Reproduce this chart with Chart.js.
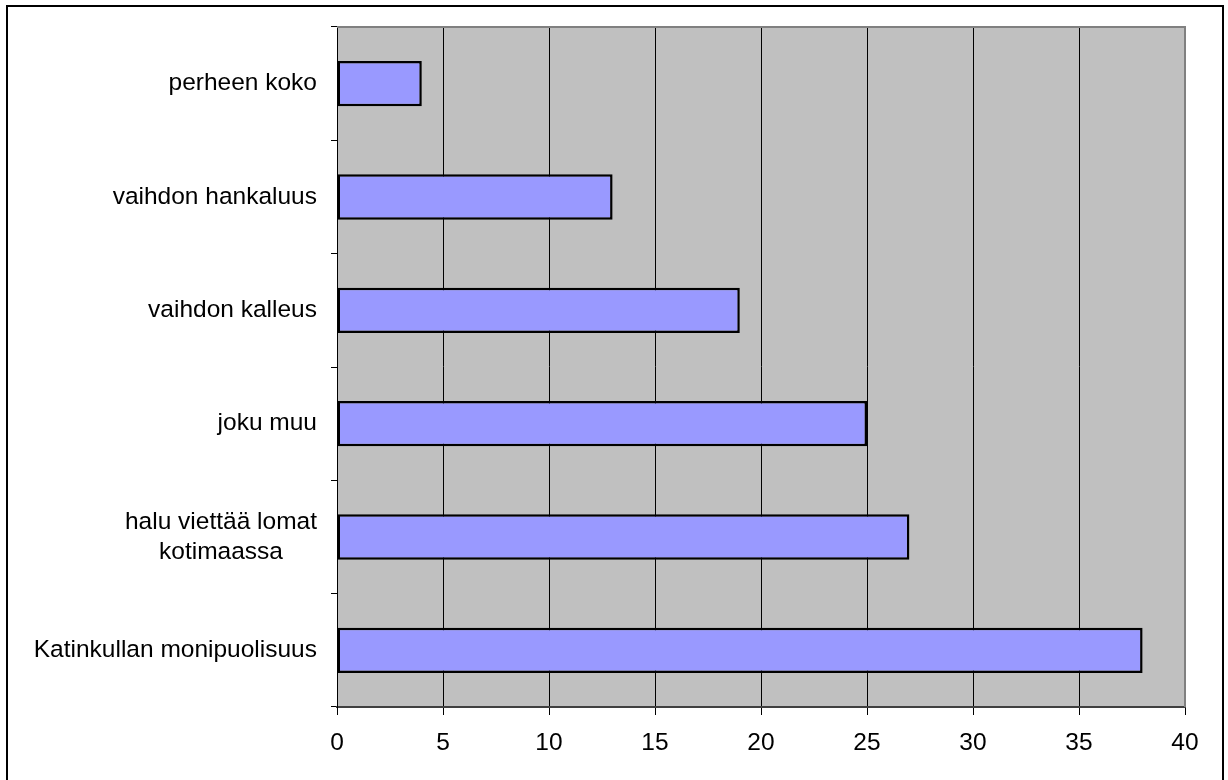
<!DOCTYPE html>
<html>
<head>
<meta charset="utf-8">
<script src="https://cdn.jsdelivr.net/npm/chart.js@4/dist/chart.umd.min.js"></script>
<style>
  html, body { margin: 0; padding: 0; background: #fff; }
  #wrap { width: 1228px; height: 780px; }
</style>
</head>
<body>
<div id="wrap"><canvas id="myBarChart" width="1228" height="780"></canvas></div>
<script>
var categories = [
  'perheen koko',
  'vaihdon hankaluus',
  'vaihdon kalleus',
  'joku muu',
  ['halu viettää lomat', 'kotimaassa'],
  'Katinkullan monipuolisuus'
];
var values = [4, 13, 19, 25, 27, 38];
var xTicks = [0, 5, 10, 15, 20, 25, 30, 35, 40];

var FAMILY = '"Liberation Sans", Arial, sans-serif';
var SIZE = 24.5;

// gray plot area + outer frame
var frame = {
  id: 'frame',
  beforeDraw: function (chart) {
    var c = chart.ctx, a = chart.chartArea;
    c.save();
    c.fillStyle = '#fff';
    c.fillRect(0, 0, chart.width, chart.height);
    c.fillStyle = '#c0c0c0';
    c.fillRect(a.left, a.top, a.right - a.left, a.bottom - a.top);
    c.strokeStyle = '#000';
    c.lineWidth = 2;
    c.strokeRect(7, 6, 1216, 790);
    c.restore();
  },
  afterDraw: function (chart) {
    var c = chart.ctx, a = chart.chartArea;
    c.save();
    c.strokeStyle = '#808080';
    c.lineWidth = 2;
    c.beginPath();
    c.moveTo(a.left, a.top);
    c.lineTo(a.right, a.top);
    c.lineTo(a.right, a.bottom);
    c.stroke();
    // category labels, lines centred on each other, block right aligned
    var y = chart.scales.y;
    c.font = SIZE + 'px ' + FAMILY;
    c.fillStyle = '#000';
    c.textAlign = 'center';
    c.textBaseline = 'middle';
    var right = y.right - 20;
    var lh = 30;
    categories.forEach(function (lab, i) {
      var lines = Array.isArray(lab) ? lab : [lab];
      var w = 0;
      lines.forEach(function (l) { w = Math.max(w, c.measureText(l).width); });
      var cx = right - w / 2;
      var cy = y.getPixelForValue(i);
      lines.forEach(function (l, j) {
        c.fillText(l, cx, cy + (j - (lines.length - 1) / 2) * lh);
      });
    });
    c.restore();
  }
};

var ctx = document.getElementById('myBarChart').getContext('2d');
var myBarChart = new Chart(ctx, {
  type: 'bar',
  data: {
    labels: categories,
    datasets: [
      {
        data: values,
        backgroundColor: '#9999ff',
        borderColor: '#000',
        borderWidth: 2.5,
        borderSkipped: false,
        barPercentage: 0.4,
        categoryPercentage: 1
      }
    ]
  },
  options: {
    indexAxis: 'y',
    responsive: false,
    animation: false,
    layout: { padding: { top: 27, right: 43, bottom: 0, left: 0 } },
    plugins: { legend: { display: false }, tooltip: { enabled: false } },
    scales: {
      x: {
        min: 0,
        max: 40,
        afterBuildTicks: function (s) { s.ticks = xTicks.map(function (v) { return { value: v }; }); },
        afterFit: function (s) { s.height = 73; },
        grid: {
          color: function (c) { return c.tick && c.tick.value === 40 ? '#808080' : '#000'; },
          lineWidth: 1,
          tickLength: 8,
          tickColor: '#000'
        },
        border: { color: '#404040', width: 2 },
        ticks: { color: '#000', font: { family: FAMILY, size: SIZE }, padding: 14 }
      },
      y: {
        afterFit: function (s) { s.width = 337; },
        grid: { drawOnChartArea: false, color: '#000', tickLength: 6, offset: true },
        border: { color: '#000', width: 1 },
        ticks: { display: false }
      }
    }
  },
  plugins: [frame]
});
</script>
</body>
</html>
